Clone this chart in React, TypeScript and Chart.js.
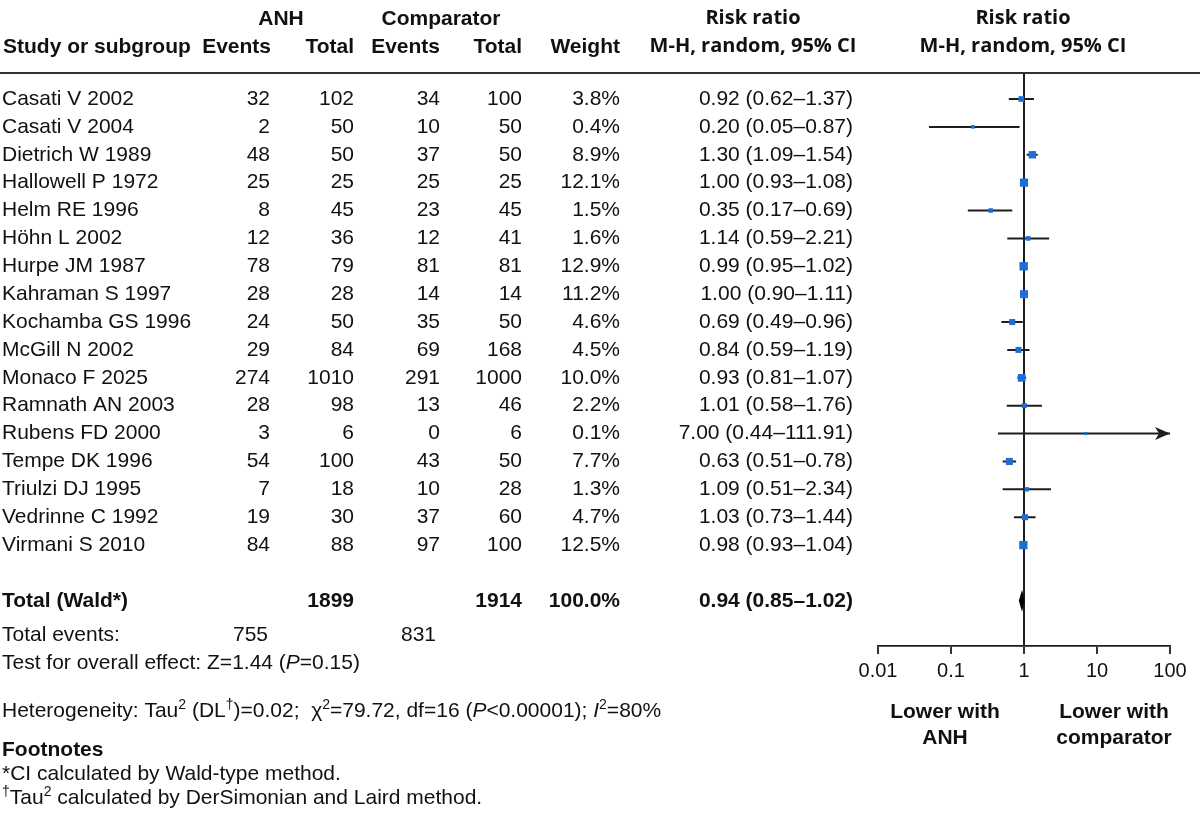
import React, { useEffect, useRef } from "react";
import { Chart, registerables } from "chart.js";

Chart.register(...registerables);

const studies = [
  "Casati V 2002", "Casati V 2004", "Dietrich W 1989", "Hallowell P 1972", "Helm RE 1996",
  "Höhn L 2002", "Hurpe JM 1987", "Kahraman S 1997", "Kochamba GS 1996", "McGill N 2002",
  "Monaco F 2025", "Ramnath AN 2003", "Rubens FD 2000", "Tempe DK 1996", "Triulzi DJ 1995",
  "Vedrinne C 1992", "Virmani S 2010",
];
const anhEvents = [32, 2, 48, 25, 8, 12, 78, 28, 24, 29, 274, 28, 3, 54, 7, 19, 84];
const anhTotal = [102, 50, 50, 25, 45, 36, 79, 28, 50, 84, 1010, 98, 6, 100, 18, 30, 88];
const compEvents = [34, 10, 37, 25, 23, 12, 81, 14, 35, 69, 291, 13, 0, 43, 10, 37, 97];
const compTotal = [100, 50, 50, 25, 45, 41, 81, 14, 50, 168, 1000, 46, 6, 50, 28, 60, 100];
const weights = [3.8, 0.4, 8.9, 12.1, 1.5, 1.6, 12.9, 11.2, 4.6, 4.5, 10.0, 2.2, 0.1, 7.7, 1.3, 4.7, 12.5];
const riskRatio = [0.92, 0.2, 1.3, 1.0, 0.35, 1.14, 0.99, 1.0, 0.69, 0.84, 0.93, 1.01, 7.0, 0.63, 1.09, 1.03, 0.98];
const ciLower = [0.62, 0.05, 1.09, 0.93, 0.17, 0.59, 0.95, 0.9, 0.49, 0.59, 0.81, 0.58, 0.44, 0.51, 0.51, 0.73, 0.93];
const ciUpper = [1.37, 0.87, 1.54, 1.08, 0.69, 2.21, 1.02, 1.11, 0.96, 1.19, 1.07, 1.76, 111.91, 0.78, 2.34, 1.44, 1.04];

const totalRow = 18;
const totalAnh = 1899;
const totalComp = 1914;
const totalWeight = 100.0;
const totalRR = 0.94;
const totalLower = 0.85;
const totalUpper = 1.02;
const totalEventsAnh = 755;
const totalEventsComp = 831;

const tickValues = [0.01, 0.1, 1, 10, 100];
const tickLabels = ["0.01", "0.1", "1", "10", "100"];

const FONT = '"Liberation Sans", Arial, Helvetica, sans-serif';
const HFONT = '"Open Sans", "Noto Sans", sans-serif';
const TEXT = "#111111";
const BLUE = "#1c6dd6";
const LINE = "#1e1e1e";

type Seg = { t: string; it?: boolean; sup?: boolean };

function rich(ctx: CanvasRenderingContext2D, segs: Seg[], x: number, y: number, size: number, weight = "normal") {
  let cx = x;
  ctx.textAlign = "left";
  for (const s of segs) {
    const sz = s.sup ? Math.round(size * 0.66) : size;
    ctx.font = `${s.it ? "italic " : ""}${weight} ${sz}px ${FONT}`;
    const dy = s.sup ? -size * 0.3 : 0;
    ctx.fillText(s.t, cx, y + dy);
    cx += ctx.measureText(s.t).width;
  }
}

function txt(ctx: CanvasRenderingContext2D, s: string, x: number, y: number, align: CanvasTextAlign, font: string) {
  ctx.font = font;
  ctx.textAlign = align;
  ctx.fillText(s, x, y);
}

const forestPlugin = {
  id: "forestExtras",
  afterDatasetsDraw(chart: any) {
    const { ctx, scales } = chart;
    const xs = scales.x;
    const ys = scales.y;
    ctx.save();
    // arrows for CIs beyond the axis
    ciUpper.forEach((u, i) => {
      if (u > xs.max) {
        const px = xs.getPixelForValue(xs.max);
        const py = ys.getPixelForValue(i);
        ctx.fillStyle = LINE;
        ctx.beginPath();
        ctx.moveTo(px, py);
        ctx.lineTo(px - 15, py - 6.5);
        ctx.lineTo(px - 11, py);
        ctx.lineTo(px - 15, py + 6.5);
        ctx.closePath();
        ctx.fill();
      }
    });
    // overall diamond
    const dy = ys.getPixelForValue(totalRow);
    const xl = xs.getPixelForValue(totalLower);
    const xc = xs.getPixelForValue(totalRR);
    const xr = xs.getPixelForValue(totalUpper);
    ctx.fillStyle = "#000";
    ctx.beginPath();
    ctx.moveTo(xl, dy);
    ctx.lineTo(xc, dy - 11);
    ctx.lineTo(xr, dy);
    ctx.lineTo(xc, dy + 11);
    ctx.closePath();
    ctx.fill();
    ctx.restore();
  },
  afterDraw(chart: any) {
    const { ctx, scales } = chart;
    const ys = scales.y;
    ctx.save();
    ctx.fillStyle = TEXT;
    ctx.textBaseline = "middle";
    const reg = `21px ${FONT}`;
    const bold = `bold 21px ${FONT}`;
    const hb = `bold 20px ${HFONT}`;

    // header rule
    ctx.fillStyle = "#333";
    ctx.fillRect(0, 72, 1200, 2);
    ctx.fillStyle = TEXT;

    // headers
    txt(ctx, "ANH", 281, 19, "center", bold);
    txt(ctx, "Comparator", 441, 19, "center", bold);
    txt(ctx, "Study or subgroup", 3, 47, "left", bold);
    txt(ctx, "Events", 271, 47, "right", bold);
    txt(ctx, "Total", 354, 47, "right", bold);
    txt(ctx, "Events", 440, 47, "right", bold);
    txt(ctx, "Total", 522, 47, "right", bold);
    txt(ctx, "Weight", 620, 47, "right", bold);
    txt(ctx, "Risk ratio", 753, 18, "center", hb);
    txt(ctx, "M-H, random, 95% CI", 753, 46, "center", hb);
    txt(ctx, "Risk ratio", 1023, 18, "center", hb);
    txt(ctx, "M-H, random, 95% CI", 1023, 46, "center", hb);

    // rows
    studies.forEach((s, i) => {
      const py = ys.getPixelForValue(i);
      txt(ctx, s, 2, py, "left", reg);
      txt(ctx, String(anhEvents[i]), 270, py, "right", reg);
      txt(ctx, String(anhTotal[i]), 354, py, "right", reg);
      txt(ctx, String(compEvents[i]), 440, py, "right", reg);
      txt(ctx, String(compTotal[i]), 522, py, "right", reg);
      txt(ctx, weights[i].toFixed(1) + "%", 620, py, "right", reg);
      txt(ctx, `${riskRatio[i].toFixed(2)} (${ciLower[i].toFixed(2)}–${ciUpper[i].toFixed(2)})`, 853, py, "right", reg);
    });

    // total row
    const ty = ys.getPixelForValue(totalRow);
    txt(ctx, "Total (Wald*)", 2, ty, "left", bold);
    txt(ctx, String(totalAnh), 354, ty, "right", bold);
    txt(ctx, String(totalComp), 522, ty, "right", bold);
    txt(ctx, totalWeight.toFixed(1) + "%", 620, ty, "right", bold);
    txt(ctx, `${totalRR.toFixed(2)} (${totalLower.toFixed(2)}–${totalUpper.toFixed(2)})`, 853, ty, "right", bold);

    txt(ctx, "Total events:", 2, 635, "left", reg);
    txt(ctx, String(totalEventsAnh), 268, 635, "right", reg);
    txt(ctx, String(totalEventsComp), 436, 635, "right", reg);

    rich(ctx, [{ t: "Test for overall effect: Z=1.44 (" }, { t: "P", it: true }, { t: "=0.15)" }], 2, 663, 21);
    rich(ctx, [
      { t: "Heterogeneity: Tau" }, { t: "2", sup: true }, { t: " (DL" }, { t: "†", sup: true },
      { t: ")=0.02;  χ" }, { t: "2", sup: true }, { t: "=79.72, df=16 (" }, { t: "P", it: true },
      { t: "<0.00001); " }, { t: "I", it: true }, { t: "2", sup: true }, { t: "=80%" },
    ], 2, 711, 21);

    txt(ctx, "Footnotes", 2, 750, "left", bold);
    txt(ctx, "*CI calculated by Wald-type method.", 2, 774, "left", reg);
    rich(ctx, [{ t: "†", sup: true }, { t: "Tau" }, { t: "2", sup: true }, { t: " calculated by DerSimonian and Laird method." }], 2, 798, 21);

    // favours labels
    txt(ctx, "Lower with", 945, 712, "center", bold);
    txt(ctx, "ANH", 945, 738, "center", bold);
    txt(ctx, "Lower with", 1114, 712, "center", bold);
    txt(ctx, "comparator", 1114, 738, "center", bold);
    ctx.restore();
  },
};

export default function App() {
  const ref = useRef<HTMLCanvasElement | null>(null);
  useEffect(() => {
    if (!ref.current) return;
    const ciData: any[] = [];
    studies.forEach((_, i) => {
      ciData.push({ x: ciLower[i], y: i });
      ciData.push({ x: ciUpper[i], y: i });
      ciData.push({ x: ciUpper[i], y: null });
    });
    const chart = new Chart(ref.current, {
      type: "scatter",
      data: {
        datasets: [
          {
            type: "line",
            data: ciData,
            borderColor: LINE,
            borderWidth: 2,
            pointRadius: 0,
            spanGaps: false,
            fill: false,
            order: 2,
          } as any,
          {
            data: studies.map((_, i) => ({ x: riskRatio[i], y: i })),
            pointStyle: "rect",
            pointRadius: weights.map((w) => 1.8 + Math.sqrt(w) * 1.15),
            backgroundColor: BLUE,
            borderWidth: 0,
            order: 1,
          },
        ],
      },
      options: {
        responsive: false,
        animation: false,
        devicePixelRatio: 1,
        layout: { padding: { left: 878, right: 30, top: 73, bottom: 134 } },
        plugins: { legend: { display: false }, tooltip: { enabled: false } },
        scales: {
          x: {
            type: "logarithmic",
            min: 0.01,
            max: 100,
            afterBuildTicks: (s: any) => {
              s.ticks = tickValues.map((v) => ({ value: v }));
            },
            afterFit: (s: any) => {
              s.height = 40;
            },
            ticks: {
              callback: (_v: any, i: number) => tickLabels[i],
              font: { family: FONT, size: 20 },
              color: TEXT,
              padding: 5,
              maxRotation: 0,
              autoSkip: false,
            },
            grid: {
              drawOnChartArea: true,
              color: (c: any) => (c.tick && c.tick.value === 1 ? LINE : "rgba(0,0,0,0)"),
              lineWidth: 2,
              tickColor: LINE,
              tickLength: 8,
              tickWidth: 1.8,
            },
            border: { display: true, color: LINE, width: 1.8 },
          },
          y: {
            type: "linear",
            display: false,
            min: -0.933,
            max: 19.62,
            reverse: true,
          },
        },
      },
      plugins: [forestPlugin],
    } as any);
    return () => chart.destroy();
  }, []);
  return (
    <div style={{ position: "absolute", left: 0, top: 0, width: 1200, height: 820, background: "#fff" }}>
      <canvas ref={ref} width={1200} height={820} style={{ display: "block" }} />
    </div>
  );
}
